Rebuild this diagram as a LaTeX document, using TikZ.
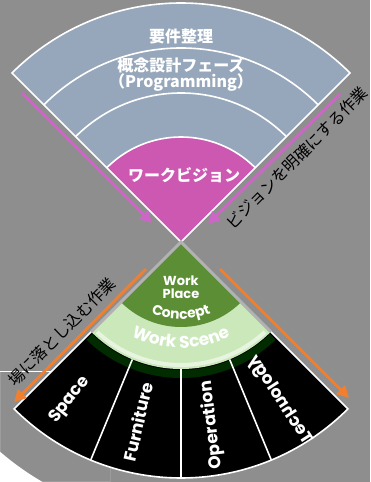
\documentclass[tikz,border=0pt]{standalone}
\usepackage{fontspec}
\usepackage{graphicx}
\newfontfamily\jp{Noto Sans CJK JP}
\newfontfamily\gothic{Poppins}
\usetikzlibrary{arrows.meta,decorations.text}
\definecolor{bg}{RGB}{142,142,142}
\definecolor{topblue}{RGB}{151,167,187}
\definecolor{vision}{RGB}{204,88,178}
\definecolor{pinkarr}{RGB}{206,102,200}
\definecolor{orangearr}{RGB}{240,128,48}
\definecolor{darkgreen}{RGB}{92,142,54}
\definecolor{lightgreen}{RGB}{202,232,186}
\definecolor{stripe}{RGB}{178,178,178}
\tikzset{
  bandline/.style={draw=white, line width=1.6pt},
  toptext/.style={text=white, font=\jp\bfseries\fontsize{16}{18}\selectfont},
  sidetext/.style={text=black, font=\jp\fontsize{16}{18}\selectfont},
  segtext/.style={text=white, font=\gothic\bfseries\fontsize{17}{19}\selectfont},
  parr/.style={draw=pinkarr, line width=2.8pt, -{Triangle[length=12pt,width=12pt]}},
  oarr/.style={draw=orangearr, line width=2.8pt, -{Triangle[length=12pt,width=12pt]}}
}
\begin{document}
\begin{tikzpicture}[x=1pt,y=1pt]
\useasboundingbox (0,0) rectangle (370,482);
\fill[bg] (0,0) rectangle (370,482);
\begin{scope}
  \clip (0,0) rectangle (110,110);
  \fill[white,even odd rule] (0,0) rectangle (110,110) (181,240) circle (277);
\end{scope}

\begin{scope}[shift={(181,240)}]
  \coordinate (apex) at (0,0);
  % top fan
  \fill[topblue] (apex) -- (45:239) arc[start angle=45,end angle=135,radius=239] -- cycle;
  \draw[bandline] (45:194) arc[start angle=45,end angle=135,radius=194];
  \draw[bandline] (45:149) arc[start angle=45,end angle=135,radius=149];
  \fill[vision] (apex) -- (45:105) arc[start angle=45,end angle=135,radius=105] -- cycle;
  \draw[bandline] (45:105) arc[start angle=45,end angle=135,radius=105];
  \draw[bandline, line join=miter] (apex) -- (45:239) arc[start angle=45,end angle=135,radius=239] -- cycle;

  % bottom fan
  \fill[black] (apex) -- (225:236) arc[start angle=225,end angle=315,radius=236] -- cycle;
  \draw[green!25!black, line width=8pt, opacity=.7] (226:132) arc[start angle=226,end angle=314,radius=132];
  \foreach \a in {247.5,270,292.5} \draw[bandline] (\a:127) -- (\a:236);
  \draw[bandline] (225:127) -- (225:236) arc[start angle=225,end angle=315,radius=236] -- (315:127);
  \fill[lightgreen] (apex) -- (225:127) arc[start angle=225,end angle=315,radius=127] -- cycle;
  \draw[white, opacity=.55, line width=4pt] (227:123) arc[start angle=227,end angle=313,radius=123];
  \fill[darkgreen] (apex) -- (225:85) arc[start angle=225,end angle=315,radius=85] -- cycle;
  \draw[stripe, line width=3pt, line join=miter] (225:127) -- (apex) -- (315:127);

  \node[text=white, font=\gothic\bfseries\fontsize{13}{13}\selectfont, align=center] (wp) at (0,-45) {Work\\Place};
  \path[decorate, decoration={text along path, text align=center, text color=white,
     text={|\gothic\bfseries\fontsize{14}{14}\selectfont|Concept}}]
     (245:77) arc[start angle=245,end angle=295,radius=77];
  \path[decorate, decoration={text along path, text align=center, text color=white,
     text={|\gothic\bfseries\fontsize{17}{17}\selectfont|Work Scene}}]
     (236:106) arc[start angle=236,end angle=304,radius=106];

  \node[segtext, rotate=52] (space) at (-111,-158) {Space};
  \node[segtext, rotate=77.5] (furn) at (-43,-180) {Furniture};
  \node[segtext, rotate=97] (oper) at (31,-183) {Operation};
  \node[segtext, rotate=-57] (tech) at (99,-158) {\reflectbox{Technology}};
\end{scope}

% top texts
\node[toptext] (t1) at (181,446) {要件整理};
\node[toptext] (t2) at (181,417) {概念設計フェーズ};
\node[toptext] (t3) at (181,399) {（Programming）};
\node[toptext] (t4) at (184,307) {ワークビジョン};

% arrows
\coordinate (pl1) at (22,389);
\coordinate (pl2) at (152,259);
\coordinate (pr1) at (340,388);
\coordinate (pr2) at (208,258);
\draw[parr] (pl1) -- (pl2);
\draw[parr] (pr1) -- (pr2);
\coordinate (ol1) at (146,213);
\coordinate (ol2) at (14,80);
\coordinate (or1) at (220,213);
\coordinate (or2) at (349,84);
\draw[oarr] (ol1) -- (ol2);
\draw[oarr] (or1) -- (or2);

\node[sidetext, rotate=45] (lbl) at (62,150) {場に落とし込む作業};
\node[sidetext, rotate=45] (rbl) at (297,324) {ビジョンを明確にする作業};
\end{tikzpicture}
\end{document}
